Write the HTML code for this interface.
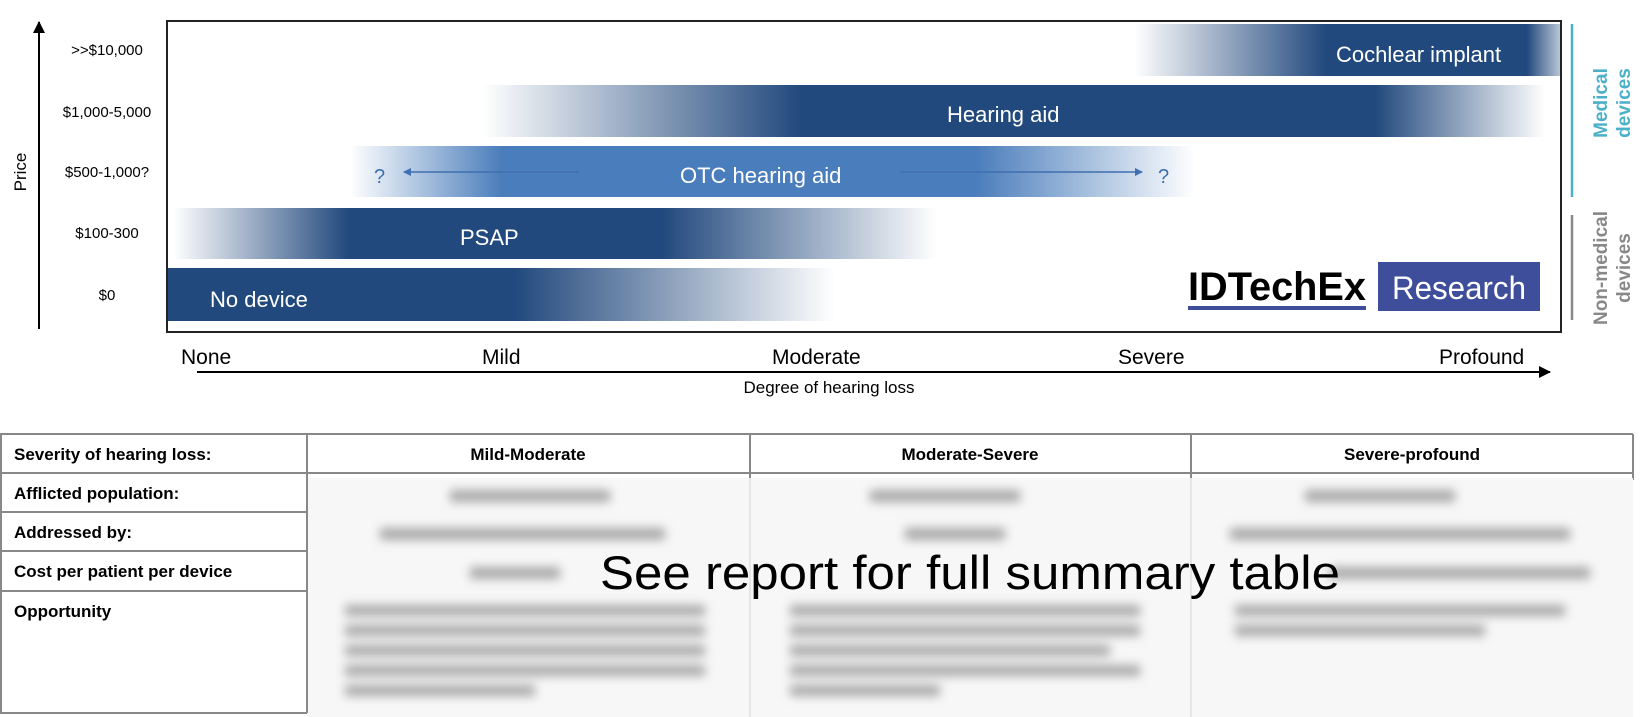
<!DOCTYPE html>
<html><head><meta charset="utf-8"><style>
html,body{margin:0;padding:0;background:#fff;width:1644px;height:717px;overflow:hidden}
svg{display:block;font-family:"Liberation Sans",Arial,sans-serif}
</style></head><body>
<svg width="1644" height="717" viewBox="0 0 1644 717" xmlns="http://www.w3.org/2000/svg">
<defs>
<linearGradient id="gCo" x1="1134" x2="1561" gradientUnits="userSpaceOnUse">
<stop offset="0" stop-color="#22497d" stop-opacity="0"/><stop offset="0.45" stop-color="#22497d"/><stop offset="0.92" stop-color="#22497d"/><stop offset="1" stop-color="#22497d" stop-opacity="0.3"/></linearGradient>
<linearGradient id="gHa" x1="482" x2="1545" gradientUnits="userSpaceOnUse">
<stop offset="0" stop-color="#22497d" stop-opacity="0"/><stop offset="0.3" stop-color="#22497d"/><stop offset="0.84" stop-color="#22497d"/><stop offset="1" stop-color="#22497d" stop-opacity="0"/></linearGradient>
<linearGradient id="gOt" x1="350" x2="1195" gradientUnits="userSpaceOnUse">
<stop offset="0" stop-color="#4a7dbb" stop-opacity="0"/><stop offset="0.18" stop-color="#4a7dbb"/><stop offset="0.74" stop-color="#4a7dbb"/><stop offset="1" stop-color="#4a7dbb" stop-opacity="0"/></linearGradient>
<linearGradient id="gPs" x1="173" x2="937" gradientUnits="userSpaceOnUse">
<stop offset="0" stop-color="#22497d" stop-opacity="0"/><stop offset="0.23" stop-color="#22497d"/><stop offset="0.64" stop-color="#22497d"/><stop offset="1" stop-color="#22497d" stop-opacity="0"/></linearGradient>
<linearGradient id="gNd" x1="167" x2="835" gradientUnits="userSpaceOnUse">
<stop offset="0" stop-color="#22497d"/><stop offset="0.52" stop-color="#22497d"/><stop offset="1" stop-color="#22497d" stop-opacity="0"/></linearGradient>
<filter id="bl" x="-10%" y="-100%" width="120%" height="300%"><feGaussianBlur stdDeviation="5"/></filter>
<marker id="ah" markerWidth="8" markerHeight="8" refX="7" refY="4" orient="auto" markerUnits="userSpaceOnUse"><path d="M0,0 L8,4 L0,8 z" fill="#3f6fb0"/></marker>
<marker id="ak" markerWidth="12" markerHeight="12" refX="11" refY="6" orient="auto" markerUnits="userSpaceOnUse"><path d="M0,0 L12,6 L0,12 z" fill="#000"/></marker>
</defs>
<line x1="39" y1="329" x2="39" y2="22" stroke="#000" stroke-width="2" marker-end="url(#ak)"/>
<text x="0" y="0" transform="translate(26,172) rotate(-90)" font-size="17" text-anchor="middle">Price</text>
<g font-size="15" text-anchor="middle" fill="#000">
<text x="107" y="55">&gt;&gt;$10,000</text>
<text x="107" y="117">$1,000-5,000</text>
<text x="107" y="177">$500-1,000?</text>
<text x="107" y="238">$100-300</text>
<text x="107" y="300">$0</text>
</g>
<rect x="167" y="21" width="1394" height="311" fill="#fff" stroke="#222" stroke-width="2"/>
<rect x="1134" y="24" width="426" height="52" fill="url(#gCo)"/>
<rect x="482" y="85" width="1063" height="52" fill="url(#gHa)"/>
<rect x="350" y="146" width="845" height="51" fill="url(#gOt)"/>
<rect x="173" y="208" width="764" height="51" fill="url(#gPs)"/>
<rect x="168" y="268" width="667" height="53" fill="url(#gNd)"/>
<g fill="#fff" font-size="22">
<text x="1336" y="62">Cochlear implant</text>
<text x="947" y="122">Hearing aid</text>
<text x="680" y="183">OTC hearing aid</text>
<text x="460" y="245">PSAP</text>
<text x="210" y="307">No device</text>
</g>
<g fill="#3f6fb0" font-size="20">
<text x="374" y="183">?</text>
<text x="1158" y="183">?</text>
</g>
<line x1="579" y1="172" x2="404" y2="172" stroke="#3f6fb0" stroke-width="1.5" marker-end="url(#ah)"/>
<line x1="900" y1="172" x2="1142" y2="172" stroke="#3f6fb0" stroke-width="1.5" marker-end="url(#ah)"/>
<text x="1188" y="300" font-size="40" font-weight="bold" fill="#000" textLength="178" lengthAdjust="spacingAndGlyphs">IDTechEx</text>
<rect x="1188" y="306" width="178" height="4" fill="#3e4e9a"/>
<rect x="1378" y="262" width="162" height="49" fill="#3e4e9a"/>
<text x="1459" y="299" font-size="32" fill="#fff" text-anchor="middle" textLength="134" lengthAdjust="spacingAndGlyphs">Research</text>
<line x1="1572" y1="24" x2="1572" y2="197" stroke="#4bb0c8" stroke-width="2.5"/>
<line x1="1572" y1="215" x2="1572" y2="320" stroke="#888" stroke-width="2.5"/>
<g font-size="19" font-weight="bold" text-anchor="middle">
<text transform="translate(1607,103) rotate(-90)" fill="#4bb0c8"><tspan x="0" y="0">Medical</tspan><tspan x="0" y="23">devices</tspan></text>
<text transform="translate(1607,268) rotate(-90)" fill="#888"><tspan x="0" y="0">Non-medical</tspan><tspan x="0" y="23">devices</tspan></text>
</g>
<g font-size="21" fill="#000">
<text x="181" y="364">None</text>
<text x="482" y="364">Mild</text>
<text x="772" y="364">Moderate</text>
<text x="1118" y="364">Severe</text>
<text x="1439" y="364">Profound</text>
</g>
<line x1="197" y1="372" x2="1550" y2="372" stroke="#000" stroke-width="2" marker-end="url(#ak)"/>
<text x="829" y="393" font-size="17" text-anchor="middle">Degree of hearing loss</text>
<g stroke="#888" stroke-width="2" fill="none">
<line x1="0" y1="434" x2="1633" y2="434"/>
<line x1="0" y1="473" x2="1633" y2="473"/>
<line x1="0" y1="512" x2="307" y2="512"/>
<line x1="0" y1="551" x2="307" y2="551"/>
<line x1="0" y1="591" x2="307" y2="591"/>
<line x1="0" y1="713" x2="307" y2="713"/>
<line x1="1" y1="434" x2="1" y2="713"/>
<line x1="307" y1="434" x2="307" y2="713"/>
<line x1="750" y1="434" x2="750" y2="480"/>
<line x1="1191" y1="434" x2="1191" y2="480"/>
<line x1="1633" y1="434" x2="1633" y2="480"/>
</g>
<g font-size="17" font-weight="bold" fill="#000">
<text x="14" y="460">Severity of hearing loss:</text>
<text x="14" y="499">Afflicted population:</text>
<text x="14" y="538">Addressed by:</text>
<text x="14" y="577">Cost per patient per device</text>
<text x="14" y="617">Opportunity</text>
<text x="528" y="460" text-anchor="middle">Mild-Moderate</text>
<text x="970" y="460" text-anchor="middle">Moderate-Severe</text>
<text x="1412" y="460" text-anchor="middle">Severe-profound</text>
</g>
<rect x="308" y="478" width="1325" height="239" fill="#f7f7f7"/>
<g stroke="#e6e6e6" stroke-width="2"><line x1="750" y1="478" x2="750" y2="717"/><line x1="1191" y1="478" x2="1191" y2="717"/></g>
<g fill="#a8a8a8" filter="url(#bl)">
<rect x="450" y="490" width="160" height="12"/>
<rect x="870" y="490" width="150" height="12"/>
<rect x="1305" y="490" width="150" height="12"/>
<rect x="380" y="528" width="285" height="12"/>
<rect x="905" y="528" width="100" height="12"/>
<rect x="1230" y="528" width="340" height="12"/>
<rect x="470" y="567" width="90" height="12"/>
<rect x="1330" y="567" width="260" height="12"/>
<rect x="345" y="605" width="360" height="11"/>
<rect x="345" y="625" width="360" height="11"/>
<rect x="345" y="645" width="360" height="11"/>
<rect x="345" y="665" width="360" height="11"/>
<rect x="345" y="685" width="190" height="11"/>
<rect x="790" y="605" width="350" height="11"/>
<rect x="790" y="625" width="350" height="11"/>
<rect x="790" y="645" width="320" height="11"/>
<rect x="790" y="665" width="350" height="11"/>
<rect x="790" y="685" width="150" height="11"/>
<rect x="1235" y="605" width="330" height="11"/>
<rect x="1235" y="625" width="250" height="11"/>
</g>
<text x="970" y="589" font-size="47" fill="#000" text-anchor="middle" textLength="740" lengthAdjust="spacingAndGlyphs">See report for full summary table</text>
</svg>
</body></html>
